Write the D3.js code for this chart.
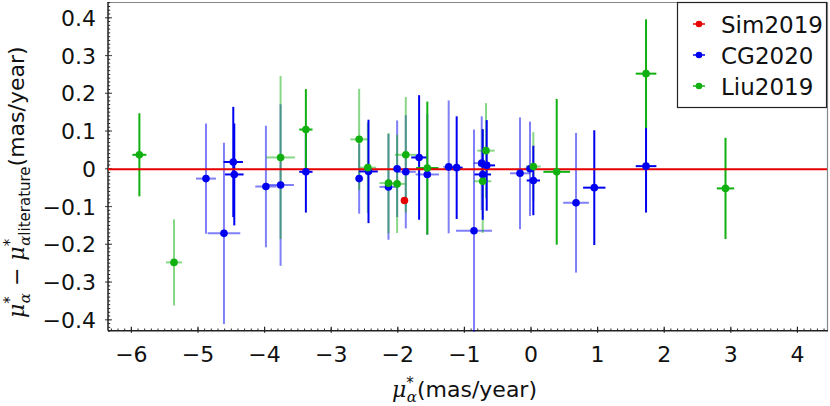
<!DOCTYPE html>
<html>
<head>
<meta charset="utf-8">
<script src="https://cdn.jsdelivr.net/npm/d3@7"></script>
<style>
  body { margin: 0; background: #fff; }
  svg { display: block; }
  .tick-label { font-family: "DejaVu Sans", sans-serif; font-size: 22px; fill: #111; }
  .legend-text { font-family: "DejaVu Sans", sans-serif; font-size: 23px; fill: #111; }
  .axis-title { font-family: "DejaVu Sans", sans-serif; font-size: 22px; fill: #111; }
  .math { font-family: "DejaVu Serif", serif; font-style: italic; }
</style>
</head>
<body>
<svg id="chart" width="830" height="406"></svg>
<script>
// each point: [x, y, xErr, yErr]
var sim2019 = [[-1.90, -0.084, 0, 0]];

// CG2020, solid error bars
var cg2020Main = [
  [-4.47, 0.018, 0.145, 0.146], [-4.455, -0.015, 0.14, 0.135], [-3.38, -0.008, 0.10, 0.108],
  [-2.44, -0.007, 0.14, 0.137], [-1.68, 0.030, 0.118, 0.165], [-1.116, 0.003, 0.09, 0.136],
  [-0.665, 0.009, 0.125, 0.12], [-0.725, -0.015, 0.125, 0.12], [0.035, -0.031, 0.10, 0.092],
  [0.95, -0.050, 0.168, 0.152], [1.727, 0.007, 0.155, 0.123]
];
// CG2020, faint error bars
var cg2020Faint = [
  [-4.88, -0.026, 0.15, 0.146], [-4.61, -0.171, 0.245, 0.24], [-3.98, -0.047, 0.16, 0.161],
  [-3.76, -0.043, 0.20, 0.214], [-2.58, -0.026, 0.06, 0.093], [-2.14, -0.048, 0.135, 0.14],
  [-2.01, 0.000, 0.05, 0.128], [-1.88, -0.008, 0.15, 0.15], [-1.557, -0.015, 0.175, 0.16],
  [-1.236, 0.005, 0.08, 0.176], [-0.856, -0.164, 0.27, 0.268], [-0.74, 0.015, 0.12, 0.124],
  [-0.165, -0.012, 0.15, 0.148], [-0.015, 0.000, 0.09, 0.125], [0.676, -0.090, 0.193, 0.185]
];

// Liu2019, solid error bars
var liu2019Main = [
  [-5.88, 0.037, 0.105, 0.11], [-3.38, 0.104, 0.10, 0.107], [-1.557, 0.002, 0.168, 0.176],
  [0.386, -0.008, 0.20, 0.193], [1.727, 0.252, 0.155, 0.144], [2.92, -0.052, 0.13, 0.134]
];
// Liu2019, faint error bars
var liu2019Faint = [
  [-5.36, -0.248, 0.12, 0.114], [-3.76, 0.030, 0.215, 0.216], [-2.58, 0.078, 0.133, 0.134],
  [-2.45, 0.003, 0.125, 0.12], [-2.14, -0.038, 0.135, 0.133], [-2.01, -0.040, 0.125, 0.13],
  [-1.88, 0.037, 0.163, 0.153], [-0.676, 0.048, 0.13, 0.126], [-0.725, -0.033, 0.13, 0.137],
  [0.035, 0.006, 0.11, 0.091]
];

var xTicks = [-6, -5, -4, -3, -2, -1, 0, 1, 2, 3, 4];
var yTicks = [-0.4, -0.3, -0.2, -0.1, 0, 0.1, 0.2, 0.3, 0.4];
var xDomain = [-6.351, 4.459];
var yDomain = [-0.4289, 0.4418];
var legendNames = ["Sim2019", "CG2020", "Liu2019"];

var RED = "#e60000", BLUE = "#0000f0", GREEN = "#10b010";

var svg = d3.select("#chart");
var plotLeft = 108, plotRight = 828, plotTop = 2, plotBottom = 330.7;

var x = d3.scaleLinear().domain(xDomain).range([plotLeft, plotRight]);
var y = d3.scaleLinear().domain(yDomain).range([plotBottom, plotTop]);

// frame: gray top/right, black left/bottom
svg.append("line").attr("x1", plotLeft).attr("x2", plotRight).attr("y1", plotTop + 0.5).attr("y2", plotTop + 0.5)
    .attr("stroke", "#888").attr("stroke-width", 1.2);
svg.append("line").attr("x1", plotRight - 0.5).attr("x2", plotRight - 0.5).attr("y1", plotTop).attr("y2", plotBottom)
    .attr("stroke", "#888").attr("stroke-width", 1.2);

// minor ticks
d3.range(-64, 45).map(function (i) { return i / 10; })
    .filter(function (v) { return v >= xDomain[0] && v <= xDomain[1]; })
    .forEach(function (v) {
        svg.append("line").attr("x1", x(v)).attr("x2", x(v))
            .attr("y1", plotBottom).attr("y2", plotBottom - 2.2)
            .attr("stroke", "#222").attr("stroke-width", 1);
    });
d3.range(-43, 45).map(function (i) { return i / 100; })
    .forEach(function (v) {
        svg.append("line").attr("x1", plotLeft).attr("x2", plotLeft + 2.2)
            .attr("y1", y(v)).attr("y2", y(v))
            .attr("stroke", "#222").attr("stroke-width", 1);
    });

// major ticks
xTicks.forEach(function (v) {
    svg.append("line").attr("x1", x(v)).attr("x2", x(v))
        .attr("y1", plotBottom + 2).attr("y2", plotBottom - 4)
        .attr("stroke", "#222").attr("stroke-width", 1.2);
});
yTicks.forEach(function (v) {
    svg.append("line").attr("x1", plotLeft - 3).attr("x2", plotLeft + 4)
        .attr("y1", y(v)).attr("y2", y(v))
        .attr("stroke", "#555").attr("stroke-width", 1.2);
});

svg.append("line").attr("x1", plotLeft).attr("x2", plotRight).attr("y1", plotBottom).attr("y2", plotBottom)
    .attr("stroke", "#222").attr("stroke-width", 1.5);
svg.append("line").attr("x1", plotLeft).attr("x2", plotLeft).attr("y1", plotTop).attr("y2", plotBottom)
    .attr("stroke", "#222").attr("stroke-width", 1.5);

// tick labels
var fmtY = d3.format(".1f");
svg.selectAll(".xlab").data(xTicks).enter().append("text")
    .attr("class", "tick-label")
    .attr("x", function (d) { return x(d); })
    .attr("y", 362)
    .attr("text-anchor", "middle")
    .text(function (d) { return d3.format("d")(d); });
svg.selectAll(".ylab").data(yTicks).enter().append("text")
    .attr("class", "tick-label")
    .attr("x", 96)
    .attr("y", function (d) { return y(d) + 8; })
    .attr("text-anchor", "end")
    .text(function (d) { return d === 0 ? "0" : fmtY(d); });

// error bars
function errorBars(data, color, opacity) {
    var g = svg.append("g").attr("stroke", color).attr("stroke-opacity", opacity).attr("stroke-width", 2);
    data.forEach(function (d) {
        if (d[3] > 0) {
            g.append("line").attr("x1", x(d[0])).attr("x2", x(d[0]))
                .attr("y1", y(d[1] - d[3])).attr("y2", y(d[1] + d[3]));
        }
        if (d[2] > 0) {
            g.append("line").attr("x1", x(d[0] - d[2])).attr("x2", x(d[0] + d[2]))
                .attr("y1", y(d[1])).attr("y2", y(d[1]));
        }
    });
}
function markers(data, color) {
    svg.append("g").selectAll("circle").data(data).enter().append("circle")
        .attr("cx", function (d) { return x(d[0]); })
        .attr("cy", function (d) { return y(d[1]); })
        .attr("r", 3.8)
        .attr("fill", color);
}

errorBars(cg2020Faint, BLUE, 0.5);
errorBars(liu2019Faint, GREEN, 0.5);
errorBars(cg2020Main, BLUE, 1);
errorBars(liu2019Main, GREEN, 1);
errorBars(sim2019, RED, 1);

// zero reference line
svg.append("line").attr("x1", plotLeft).attr("x2", plotRight - 1)
    .attr("y1", y(0) + 0.5).attr("y2", y(0) + 0.5)
    .attr("stroke", RED).attr("stroke-width", 2);

markers(cg2020Faint, BLUE);
markers(cg2020Main, BLUE);
markers(liu2019Faint, GREEN);
markers(liu2019Main, GREEN);
markers(sim2019, RED);

// legend
var lg = svg.append("g");
lg.append("rect").attr("x", 677.5).attr("y", 2.5).attr("width", 149).attr("height", 105)
    .attr("fill", "#fff").attr("stroke", "#222").attr("stroke-width", 1.2);
var legendColors = [RED, BLUE, GREEN];
legendNames.forEach(function (name, i) {
    var cy = 24 + i * 31;
    lg.append("line").attr("x1", 693).attr("x2", 705).attr("y1", cy).attr("y2", cy)
        .attr("stroke", legendColors[i]).attr("stroke-width", 1.5);
    lg.append("circle").attr("cx", 699).attr("cy", cy).attr("r", 3.3).attr("fill", legendColors[i]);
    lg.append("text").attr("class", "legend-text").attr("x", 721).attr("y", cy + 8.5).text(name);
});

// axis titles
var xt = svg.append("text").attr("class", "axis-title").attr("x", 392).attr("y", 397);
xt.append("tspan").attr("class", "math").text("μ");
xt.append("tspan").attr("dy", -9).attr("font-size", 15).text("*");
xt.append("tspan").attr("class", "math").attr("dx", -7).attr("dy", 14).attr("font-size", 15).text("α");
xt.append("tspan").attr("dy", -5).text("(mas/year)");

var yt = svg.append("text").attr("class", "axis-title")
    .attr("transform", "translate(24,318) rotate(-90)");
yt.append("tspan").attr("class", "math").text("μ");
yt.append("tspan").attr("dy", -9).attr("font-size", 15).text("*");
yt.append("tspan").attr("class", "math").attr("dx", -7).attr("dy", 15).attr("font-size", 15).text("α");
yt.append("tspan").attr("dy", -6).text(" − ");
yt.append("tspan").attr("class", "math").text("μ");
yt.append("tspan").attr("dy", -9).attr("font-size", 15).text("*");
yt.append("tspan").attr("class", "math").attr("dx", -7).attr("dy", 15).attr("font-size", 15).text("α");
yt.append("tspan").attr("font-size", 15).text("literature");
yt.append("tspan").attr("dy", -6).text("(mas/year)");
</script>
</body>
</html>
